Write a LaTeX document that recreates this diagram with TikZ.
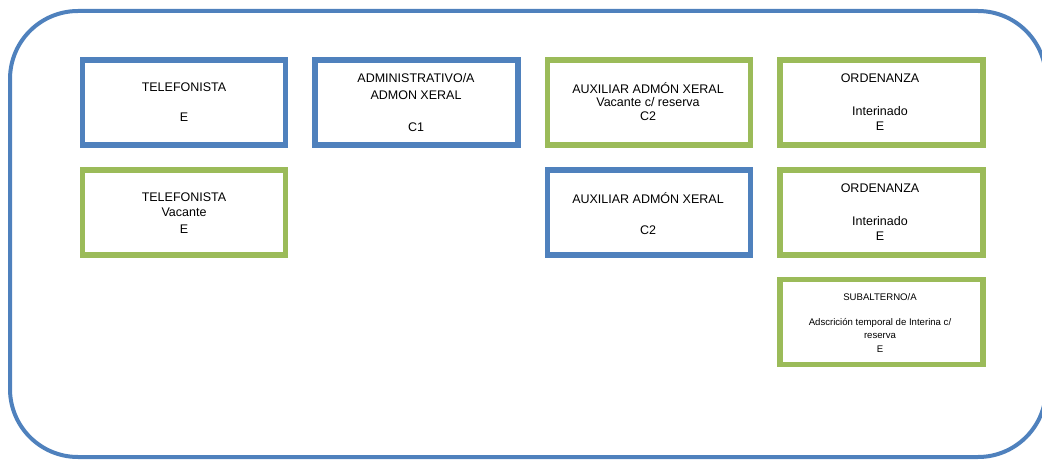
\documentclass[tikz,border=0pt]{standalone}
\usepackage{fontspec}
\setmainfont{Liberation Sans}
\definecolor{oblue}{HTML}{4F81BD}
\definecolor{ogreen}{HTML}{9BBB59}
\begin{document}
\begin{tikzpicture}[x=1pt,y=-1pt,
  post/.style={draw,line width=5.5pt,minimum width=203pt,minimum height=85pt,anchor=north west,inner sep=0pt,outer sep=0pt},
  bluepost/.style={post,draw=oblue},
  greenpost/.style={post,draw=ogreen},
  lbl/.style={font=\fontsize{12.5}{14}\selectfont,inner sep=0pt,anchor=center},
  small/.style={font=\fontsize{9.6}{11}\selectfont,inner sep=0pt,anchor=center}]
\useasboundingbox (0,0) rectangle (1042,460);
\draw[oblue,line width=4pt,rounded corners=68pt] (10,11) rectangle (1046,457);
% row 1
\node[bluepost] (b1) at (82.5,60) {};
\node[bluepost] (b2) at (315,60) {};
\node[greenpost] (b3) at (547.5,60) {};
\node[greenpost] (b4) at (780,60) {};
% row 2
\node[greenpost] (b5) at (82.5,170) {};
\node[bluepost] (b6) at (547.5,170) {};
\node[greenpost] (b7) at (780,170) {};
% row 3
\node[greenpost] (b8) at (780,279.5) {};
% texts
\node[lbl] (t1a) at (184,87) {TELEFONISTA};
\node[lbl] (t1b) at (184,117) {E};
\node[lbl] (t2a) at (416,78) {ADMINISTRATIVO/A};
\node[lbl] (t2b) at (416,95) {ADMON XERAL};
\node[lbl] (t2c) at (416,127) {C1};
\node[lbl] (t3a) at (648,88) {AUXILIAR ADMÓN XERAL};
\node[lbl] (t3b) at (648,102) {Vacante c/ reserva};
\node[lbl] (t3c) at (648,116) {C2};
\node[lbl] (t4a) at (880,78) {ORDENANZA};
\node[lbl] (t4b) at (880,111) {Interinado};
\node[lbl] (t4c) at (880,126) {E};
\node[lbl] (t5a) at (184,197) {TELEFONISTA};
\node[lbl] (t5b) at (184,212) {Vacante};
\node[lbl] (t5c) at (184,229) {E};
\node[lbl] (t6a) at (648,198) {AUXILIAR ADMÓN XERAL};
\node[lbl] (t6b) at (648,230) {C2};
\node[lbl] (t7a) at (880,188) {ORDENANZA};
\node[lbl] (t7b) at (880,221) {Interinado};
\node[lbl] (t7c) at (880,236) {E};
\node[small] (t8a) at (880,297) {SUBALTERNO/A};
\node[small] (t8b) at (880,323) {Adscrición temporal de Interina c/};
\node[small] (t8c) at (880,336) {reserva};
\node[small] (t8d) at (880,349) {E};
\end{tikzpicture}
\end{document}
